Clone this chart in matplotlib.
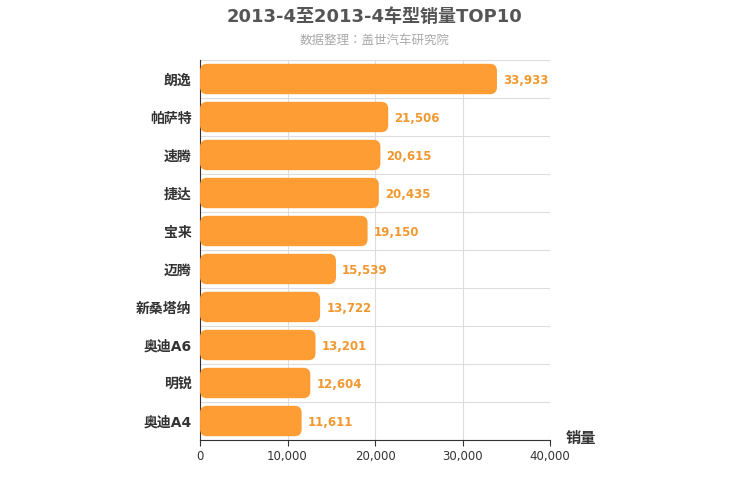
import matplotlib.pyplot as plt
from matplotlib import font_manager
from matplotlib.patches import FancyBboxPatch

cjk = sorted({f.name for f in font_manager.fontManager.ttflist if "Sans CJK" in f.name})
fam = "Noto Sans CJK SC" if "Noto Sans CJK SC" in cjk else (cjk[0] if cjk else "DejaVu Sans")
plt.rcParams['font.family'] = ['DejaVu Sans', fam]

cars = ["朗逸", "帕萨特", "速腾", "捷达", "宝来", "迈腾", "新桑塔纳", "奥迪A6", "明锐", "奥迪A4"]
sales = [33933, 21506, 20615, 20435, 19150, 15539, 13722, 13201, 12604, 11611]
xticks = [0, 10000, 20000, 30000, 40000]

fig = plt.figure(figsize=(7.5, 5), dpi=100)
ax = fig.add_axes([0.2667, 0.12, 0.4667, 0.76])
ax.set_xlim(0, 40000)
ax.set_ylim(len(cars), 0)

# px -> data unit ratio for rounded corners
ux = 40000 / 350
uy = len(cars) / 380
for i, v in enumerate(sales):
    h = 0.8
    p = FancyBboxPatch((0, i + 0.1), v, h,
                       boxstyle="round,pad=0,rounding_size=%f" % (7 * ux),
                       mutation_aspect=uy / ux,
                       fc="#ff9d35", ec="none", zorder=3)
    ax.add_patch(p)
    ax.text(v + 700, i + 0.55, f"{v:,}", va="center", ha="left",
            color="#f0982f", fontsize=8.5, fontweight="bold", zorder=4)

ax.set_yticks([i + 0.5 for i in range(len(cars))])
ax.set_yticklabels(cars, fontsize=10, fontweight="bold", color="#333333")
ax.set_yticks(range(len(cars) + 1), minor=True)
ax.set_xticks(xticks)
ax.set_xticklabels([f"{t:,}" for t in xticks], fontsize=8.5, color="#333333")
ax.grid(axis="x", color="#dddddd", lw=0.8, zorder=0)
ax.grid(axis="y", which="minor", color="#dddddd", lw=0.8, zorder=0)
ax.tick_params(axis="y", which="both", length=0, pad=6)
ax.tick_params(axis="x", length=4, color="#333333")
for s in ["top", "right"]:
    ax.spines[s].set_visible(False)
ax.spines["left"].set_color("#333333")
ax.spines["bottom"].set_color("#333333")

fig.text(0.5, 0.965, "2013-4至2013-4车型销量TOP10", ha="center", va="center",
         fontsize=13, fontweight="bold", color="#555555")
fig.text(0.5, 0.92, "数据整理：盖世汽车研究院", ha="center", va="center",
         fontsize=9, color="#aaaaaa")
fig.text(0.775, 0.123, "销量", ha="center", va="center",
         fontsize=11, fontweight="bold", color="#333333")

fig.savefig("out.png", dpi=100)
